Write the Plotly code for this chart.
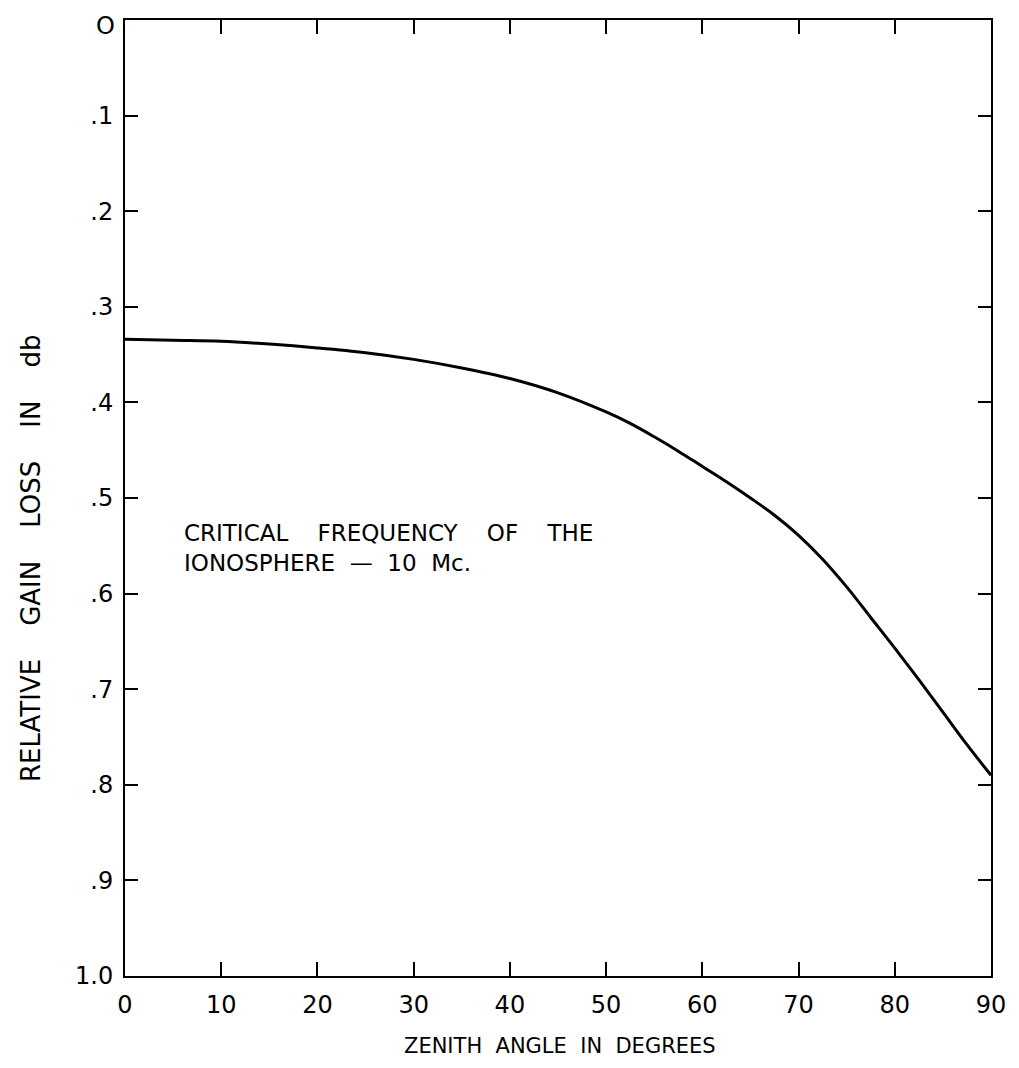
import plotly.graph_objects as go

zenith_deg = [0, 5, 10, 15, 20, 25, 30, 35, 40, 45, 50, 52.5, 55, 57.5, 60, 62.5, 65,
              67.5, 70, 72.5, 75, 77.5, 80, 82.5, 85, 87.5, 90]
gain_loss_db = [0.334, 0.335, 0.336, 0.339, 0.343, 0.348, 0.355, 0.364, 0.375, 0.390,
                0.410, 0.422, 0.436, 0.451, 0.467, 0.483, 0.500, 0.518, 0.539, 0.564,
                0.593, 0.625, 0.657, 0.690, 0.724, 0.758, 0.790]

x_tick_vals = [0, 10, 20, 30, 40, 50, 60, 70, 80, 90]
x_tick_text = ["0", "10", "20", "30", "40", "50", "60", "70", "80", "90"]
y_tick_vals = [0, 0.1, 0.2, 0.3, 0.4, 0.5, 0.6, 0.7, 0.8, 0.9, 1.0]
y_tick_text = ["O", ".1", ".2", ".3", ".4", ".5", ".6", ".7", ".8", ".9", "1.0"]

x_title = "ZENITH ANGLE IN DEGREES"
y_title = "RELATIVE GAIN LOSS IN db"
note_lines = ["CRITICAL FREQUENCY OF THE", "IONOSPHERE \u2014 10 Mc."]

font_family = "DejaVu Sans"
NB = "\u00a0"

# target plot area in page pixels
PX0, PX1, PY0, PY1 = 125, 991, 20, 976
BODY = 8  # default page body margin


def spaced(s, n):
    return s.replace(" ", NB * n)


def px(xp):
    return (xp - PX0) / (PX1 - PX0)


def py(yp):
    return 1 - (yp - PY0) / (PY1 - PY0)


fig = go.Figure()
fig.add_trace(go.Scatter(
    x=zenith_deg, y=gain_loss_db, mode="lines",
    line=dict(color="black", width=3, shape="spline", smoothing=1.0),
    showlegend=False, hoverinfo="skip",
))

fig.add_annotation(
    x=px(182), y=py(548), xref="paper", yref="paper",
    text=spaced(note_lines[0], 4) + "<br>" + spaced(note_lines[1], 2), showarrow=False,
    xanchor="left", yanchor="middle", align="left",
    font=dict(family=font_family, size=23, color="black"),
)
fig.add_annotation(
    x=px(560), y=py(1046), xref="paper", yref="paper",
    text=spaced(x_title, 2), showarrow=False,
    xanchor="center", yanchor="middle",
    font=dict(family=font_family, size=21, color="black"),
)
fig.add_annotation(
    x=px(31), y=py(558), xref="paper", yref="paper",
    text=spaced(y_title, 4), showarrow=False, textangle=-90,
    xanchor="center", yanchor="middle",
    font=dict(family=font_family, size=26, color="black"),
)
# top "O" label placed as annotation so it stays inside the page
fig.add_annotation(
    x=px(117), y=py(10), xref="paper", yref="paper",
    text=y_tick_text[0], showarrow=False,
    xanchor="right", yanchor="top",
    font=dict(family=font_family, size=24, color="black"),
)

fig.update_layout(
    width=1019, height=1068,
    margin=dict(l=PX0 - BODY, r=1019 + BODY - PX1, t=PY0 - BODY, b=1068 + BODY - PY1,
                autoexpand=False),
    paper_bgcolor="white", plot_bgcolor="white",
    font=dict(family=font_family, color="black"),
)
fig.update_xaxes(
    range=[0, 90], tickvals=x_tick_vals, ticktext=x_tick_text,
    showline=True, linecolor="black", linewidth=2, mirror="ticks",
    ticks="inside", ticklen=14, tickwidth=2, tickcolor="black",
    showgrid=False, zeroline=False, automargin=False,
    tickfont=dict(family=font_family, size=24, color="black"),
    ticklabelstandoff=6, ticklabeloverflow="allow",
)
fig.update_yaxes(
    range=[1.0, 0], tickvals=y_tick_vals[1:], ticktext=y_tick_text[1:],
    showline=True, linecolor="black", linewidth=2, mirror="ticks",
    ticks="inside", ticklen=13, tickwidth=2, tickcolor="black",
    showgrid=False, zeroline=False, automargin=False,
    tickfont=dict(family=font_family, size=24, color="black"),
    ticklabelstandoff=5, ticklabeloverflow="allow",
)

fig.write_html("out.html")
